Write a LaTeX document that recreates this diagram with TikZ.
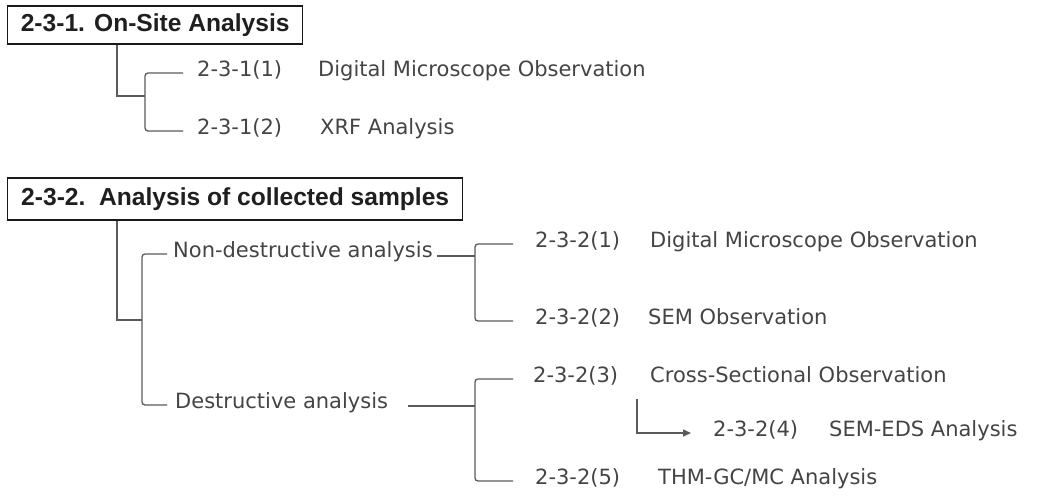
\documentclass[tikz,border=0pt]{standalone}
\usepackage{fontspec}
\setmainfont{DejaVu Sans}
\newfontfamily\headfont{Liberation Sans}
\usetikzlibrary{arrows.meta}
\definecolor{txtgray}{HTML}{444444}
\definecolor{linegray}{HTML}{5A5A5A}
\newcommand{\itm}[3][116pt]{\makebox[#1][l]{#2}#3}
\tikzset{
  head/.style={draw=black!90, line width=1.4pt, font=\headfont\fontsize{24.6}{28}\selectfont\bfseries,
    text=black!88, anchor=west},
  item/.style={font=\fontsize{21}{24}\selectfont, text=txtgray, anchor=west,
    inner sep=0pt, text height=0.72em, text depth=0pt},
  conn/.style={draw=linegray, line width=1.3pt},
  brace/.style={conn, rounded corners=3pt},
}
\begin{document}
\begin{tikzpicture}[x=1pt, y=-1pt]
  \useasboundingbox (0,0) rectangle (1045,496);
  % on-site analysis
  \node[head, minimum width=295pt, minimum height=38pt] (h1) at (7,25) {2-3-1. On-Site Analysis};
  \node[item] (t11) at (197,73) {\itm[121pt]{2-3-1(1)}{Digital Microscope Observation}};
  \node[item] (t12) at (197,131) {\itm[123pt]{2-3-1(2)}{XRF Analysis}};
  \coordinate (j1) at (145,96);
  \draw[conn] ([xshift=110]h1.south west) |- (j1);
  \draw[brace] ([xshift=-14]t11.west) -| (j1) |- ([xshift=-14]t12.west);
  % collected samples
  \node[head, minimum width=455pt, minimum height=42pt] (h2) at (7,199) {2-3-2.\ \ Analysis of collected samples};
  \node[item] (nd) at (173,254) {Non-destructive analysis};
  \node[item] (de) at (175,405) {Destructive analysis};
  \coordinate (j2) at (142,320);
  \draw[conn] ([xshift=110]h2.south west) |- (j2);
  \draw[brace] ([xshift=-6]nd.west) -| (j2) |- ([xshift=-8]de.west);
  % non-destructive
  \node[item] (t21) at (535,244) {\itm[115pt]{2-3-2(1)}{Digital Microscope Observation}};
  \node[item] (t22) at (535,321) {\itm[113pt]{2-3-2(2)}{SEM Observation}};
  \coordinate (j3) at (475,256);
  \draw[conn] ([xshift=4]nd.east |- j3) -- (j3);
  \draw[brace] ([xshift=-22]t21.west) -| (j3) |- ([xshift=-22]t22.west);
  % destructive
  \node[item] (t23) at (533,379) {\itm[117pt]{2-3-2(3)}{Cross-Sectional Observation}};
  \node[item] (t24) at (713,433) {\itm[116pt]{2-3-2(4)}{SEM-EDS Analysis}};
  \node[item] (t25) at (535,481) {\itm[123pt]{2-3-2(5)}{THM-GC/MC Analysis}};
  \coordinate (j4) at (475,406);
  \draw[conn] ([xshift=20]de.east |- j4) -- (j4);
  \draw[brace] ([xshift=-20]t23.west) -| (j4) |- ([xshift=-22]t25.west);
  \draw[conn, -{Triangle[length=8pt, width=7pt]}] ([xshift=104, yshift=-20]t23.west) |- ([xshift=-22]t24.west);
\end{tikzpicture}
\end{document}
